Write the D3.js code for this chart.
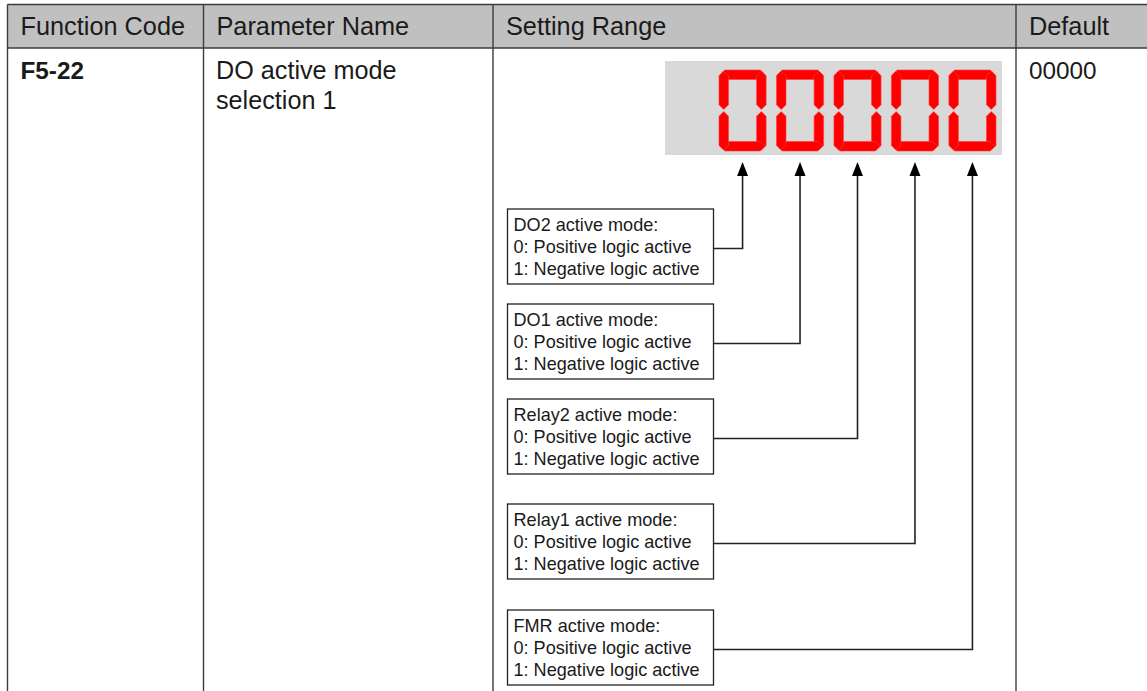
<!DOCTYPE html>
<html><head><meta charset="utf-8">
<script src="https://cdn.jsdelivr.net/npm/d3@7"></script>
<style>body{margin:0;background:#fff}svg{display:block}text{font-family:"Liberation Sans",Arial,sans-serif;fill:#1a1a1a}</style>
</head><body>
<script>
// ---- data ----
const headers = ["Function Code", "Parameter Name", "Setting Range", "Default"];
const rowCode = "F5-22";
const rowName = ["DO active mode", "selection 1"];
const rowDefault = "00000";
const digits = ["0", "0", "0", "0", "0"];
const boxTitles = ["DO2 active mode:", "DO1 active mode:", "Relay2 active mode:", "Relay1 active mode:", "FMR active mode:"];
const boxOptions = ["0: Positive logic active", "1: Negative logic active"];

// ---- layout ----
const W = 1147, H = 691;
const colX = [7.5, 203.5, 493, 1016, 1160];
const tableTop = 4.5, headerBottom = 48;
const svg = d3.select("body").append("svg").attr("width", W).attr("height", H);
const lineCol = "#3c3c3c";

svg.append("rect").attr("x", colX[0]).attr("y", tableTop).attr("width", W).attr("height", headerBottom - tableTop).attr("fill", "#c0c0c0");
[tableTop, headerBottom].forEach(y => svg.append("line").attr("x1", colX[0]).attr("x2", W).attr("y1", y).attr("y2", y).attr("stroke", lineCol).attr("stroke-width", 1.6));
colX.slice(0, 4).forEach(x => svg.append("line").attr("x1", x).attr("x2", x).attr("y1", tableTop).attr("y2", H).attr("stroke", lineCol).attr("stroke-width", 1.4));
headers.forEach((h, i) => svg.append("text").attr("x", colX[i] + 13).attr("y", 35).attr("font-size", 25.3).text(h));
svg.append("text").attr("x", colX[0] + 13).attr("y", 79).attr("font-size", 24.3).attr("font-weight", "bold").text(rowCode);
rowName.forEach((t, i) => svg.append("text").attr("x", colX[1] + 12.5).attr("y", 79 + i * 30).attr("font-size", 25.2).text(t));
svg.append("text").attr("x", colX[3] + 13).attr("y", 79).attr("font-size", 24.3).text(rowDefault);

// ---- display ----
svg.append("rect").attr("x", 665).attr("y", 61).attr("width", 337).attr("height", 94).attr("fill", "#d9d9d9");
const xDigit = d3.scaleBand().domain(d3.range(digits.length)).range([719, 996]).paddingInner(0.18).paddingOuter(0);
const dw = xDigit.bandwidth(), dh = 81, t = 9.5, g = 1;
const segOn = {"0": "abcdef", "1": "bc", "8": "abcdefg"};
function hseg(xa, xb, yc) {
  return [[xa, yc], [xa + t / 2, yc - t / 2], [xb - t / 2, yc - t / 2], [xb, yc], [xb - t / 2, yc + t / 2], [xa + t / 2, yc + t / 2]];
}
function vseg(xc, ya, yb) {
  return [[xc, ya], [xc + t / 2, ya + t / 2], [xc + t / 2, yb - t / 2], [xc, yb], [xc - t / 2, yb - t / 2], [xc - t / 2, ya + t / 2]];
}
digits.forEach((d, i) => {
  const x0 = xDigit(i), y0 = 70, w = dw, h = dh;
  const segs = {
    a: hseg(x0 + g, x0 + w - g, y0 + t / 2),
    d: hseg(x0 + g, x0 + w - g, y0 + h - t / 2),
    g: hseg(x0 + g, x0 + w - g, y0 + h / 2),
    f: vseg(x0 + t / 2, y0 + g, y0 + h / 2 - g),
    b: vseg(x0 + w - t / 2, y0 + g, y0 + h / 2 - g),
    e: vseg(x0 + t / 2, y0 + h / 2 + g, y0 + h - g),
    c: vseg(x0 + w - t / 2, y0 + h / 2 + g, y0 + h - g)
  };
  (segOn[d] || "").split("").forEach(k => {
    svg.append("polygon").attr("points", segs[k].map(p => p.join(",")).join(" ")).attr("fill", "#ff0000").attr("stroke", "#ff3a3a").attr("stroke-width", 0.6);
  });
});

// ---- boxes & arrows ----
const boxTop = [209, 304, 399, 504, 610];
const boxX = 507.5, boxW = 206, boxH = 75;
boxTitles.forEach((title, i) => {
  const y = boxTop[i];
  svg.append("rect").attr("x", boxX).attr("y", y).attr("width", boxW).attr("height", boxH).attr("fill", "#fff").attr("stroke", "#222").attr("stroke-width", 1.3);
  [title].concat(boxOptions).forEach((s, j) => svg.append("text").attr("x", boxX + 6).attr("y", y + 21.5 + j * 22).attr("font-size", 18.1).text(s));
  const cx = xDigit(i) + dw / 2;
  const cy = y + 39.5;
  svg.append("path").attr("d", `M${boxX + boxW},${cy}H${cx}V174`).attr("fill", "none").attr("stroke", "#222").attr("stroke-width", 1.6);
  svg.append("path").attr("d", `M${cx},162L${cx - 5.5},176L${cx + 5.5},176Z`).attr("fill", "#000");
});
</script>
</body></html>
